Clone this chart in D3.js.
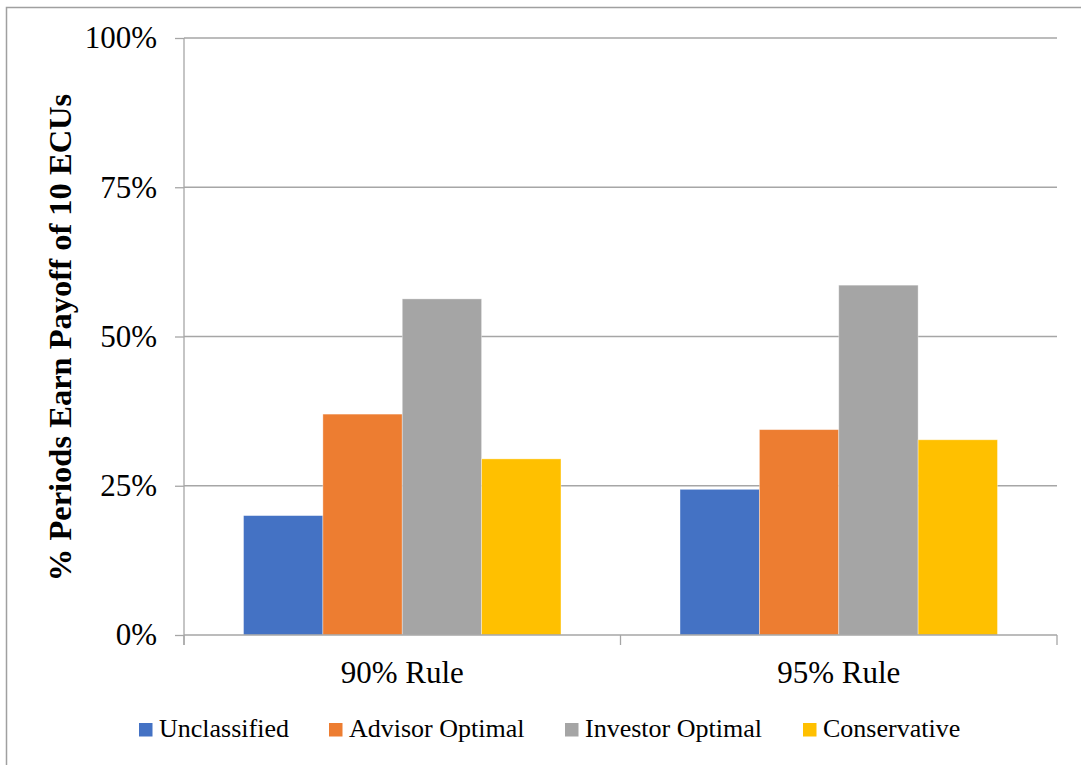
<!DOCTYPE html>
<html>
<head>
<meta charset="utf-8">
<script src="https://cdn.jsdelivr.net/npm/d3@7"></script>
<style>
  html, body { margin: 0; padding: 0; background: #fff; }
  svg { display: block; }
</style>
</head>
<body>
<svg id="chart" width="1081" height="765"></svg>
<script>
// Rules (x-axis groups) and classification series
const categories = ["90% Rule", "95% Rule"];
const seriesNames = ["Unclassified", "Advisor Optimal", "Investor Optimal", "Conservative"];
const seriesColors = ["#4472C4", "#ED7D31", "#A5A5A5", "#FFC000"];

// Share of periods earning a payoff of 10 ECUs, one array per series
const unclassified   = [0.200, 0.244];
const advisorOptimal = [0.370, 0.344];
const investorOptimal= [0.563, 0.586];
const conservative   = [0.295, 0.327];
const seriesValues = [unclassified, advisorOptimal, investorOptimal, conservative];

const yTicks = [0, 0.25, 0.5, 0.75, 1];
const yTitle = "% Periods Earn Payoff of 10 ECUs";

const FONT = "'Liberation Serif', 'Times New Roman', Tinos, 'DejaVu Serif', serif";

const svg = d3.select("#chart").style("font-family", FONT);
const plot = { left: 184, right: 1057, top: 38, bottom: 635 };
const axisColor = "#a6a6a6";

// chart frame
svg.append("rect")
  .attr("x", 6.5).attr("y", 7.5)
  .attr("width", 1200).attr("height", 900)
  .attr("fill", "none").attr("stroke", "#a0a0a0").attr("stroke-width", 1.5);

const x0 = d3.scaleBand().domain(categories).range([plot.left, plot.right]).padding(0);
const x1 = d3.scaleBand().domain(seriesNames).range([0, x0.bandwidth()])
  .paddingInner(0).paddingOuter(0.75);
const y = d3.scaleLinear().domain([0, 1]).range([plot.bottom, plot.top]);

// horizontal gridlines
svg.append("g")
  .selectAll("line")
  .data(yTicks.filter(t => t > 0))
  .join("line")
  .attr("x1", plot.left).attr("x2", plot.right)
  .attr("y1", d => y(d)).attr("y2", d => y(d))
  .attr("stroke", axisColor).attr("stroke-width", 1.3);

// bars
const rows = [];
categories.forEach((c, ci) => {
  seriesNames.forEach((s, si) => rows.push({ cat: c, series: s, si, value: seriesValues[si][ci] }));
});
svg.append("g")
  .selectAll("rect")
  .data(rows)
  .join("rect")
  .attr("x", d => x0(d.cat) + x1(d.series))
  .attr("y", d => y(d.value))
  .attr("width", x1.bandwidth())
  .attr("height", d => y(0) - y(d.value))
  .attr("fill", d => seriesColors[d.si])
  .attr("stroke", "#ffffff").attr("stroke-opacity", 0.45).attr("stroke-width", 0.8);

// y axis
const yAxis = d3.axisLeft(y).tickValues(yTicks).tickFormat(d3.format(".0%"))
  .tickSize(9).tickPadding(18);
const gy = svg.append("g").attr("transform", `translate(${plot.left},0)`).call(yAxis)
  .attr("font-family", null).attr("font-size", null);
gy.select(".domain").attr("stroke", axisColor).attr("stroke-width", 1.3)
  .attr("d", `M0,${plot.top}V${plot.bottom + 10}`);
gy.selectAll(".tick line").attr("stroke", axisColor).attr("stroke-width", 1.3);
gy.selectAll(".tick text")
  .style("font-family", FONT).style("font-size", "31px").attr("fill", "#000");

// x axis: category boundaries as ticks
const xAxisLine = svg.append("g");
xAxisLine.append("line")
  .attr("x1", plot.left).attr("x2", plot.right)
  .attr("y1", y(0)).attr("y2", y(0))
  .attr("stroke", axisColor).attr("stroke-width", 1.3);
const bounds = categories.map(c => x0(c)).concat([x0(categories[categories.length - 1]) + x0.bandwidth()]);
xAxisLine.selectAll("line.b")
  .data(bounds)
  .join("line").attr("class", "b")
  .attr("x1", d => d).attr("x2", d => d)
  .attr("y1", y(0)).attr("y2", y(0) + 10)
  .attr("stroke", axisColor).attr("stroke-width", 1.3);
svg.append("g")
  .selectAll("text")
  .data(categories)
  .join("text")
  .attr("x", d => x0(d) + x0.bandwidth() / 2)
  .attr("y", 683)
  .attr("text-anchor", "middle")
  .style("font-family", FONT)
  .style("font-size", "31px")
  .text(d => d);

// y axis title
svg.append("text")
  .attr("transform", `translate(71,${(plot.top + plot.bottom) / 2 + 1}) rotate(-90)`)
  .attr("text-anchor", "middle")
  .style("font-family", FONT)
  .style("font-size", "32.5px").style("font-weight", "bold")
  .text(yTitle);

// legend
const legendX = [139, 329, 565, 803];
const legend = svg.append("g");
const items = legend.selectAll("g")
  .data(seriesNames)
  .join("g")
  .attr("transform", (d, i) => `translate(${legendX[i]},0)`);
items.append("rect")
  .attr("x", 0).attr("y", 723)
  .attr("width", 13.5).attr("height", 13.5)
  .attr("fill", (d, i) => seriesColors[i]);
items.append("text")
  .attr("x", 20).attr("y", 737)
  .style("font-family", FONT)
  .style("font-size", "26px")
  .text(d => d);
</script>
</body>
</html>
